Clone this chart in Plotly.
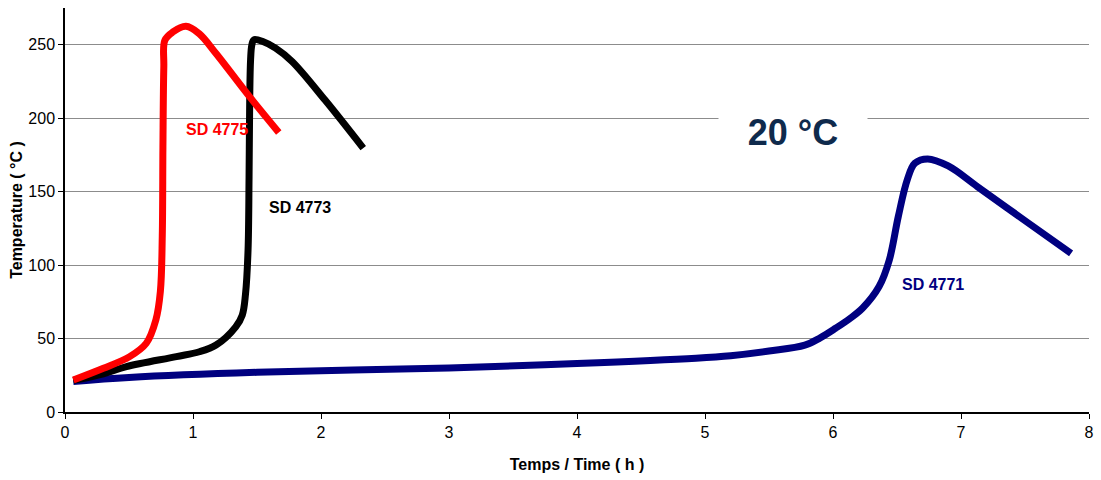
import plotly.graph_objects as go

# SD 4771 (blue)
t_4771 = [0.065, 0.5, 1.5, 3.0, 4.0, 4.93, 5.2, 5.5, 5.78, 5.9, 6.02, 6.13, 6.23, 6.36, 6.44, 6.51, 6.58, 6.64, 6.74, 6.9, 7.13, 7.52, 7.86]
T_4771 = [20.8, 23.5, 27, 30, 33, 36.6, 38.3, 41.5, 45.5, 50.5, 57, 63.5, 70.6, 85.4, 103.5, 133, 158, 169.4, 172.3, 167.5, 153.3, 129, 108]

# SD 4773 (black)
t_4773 = [0.065, 0.3, 0.48, 0.87, 1.05, 1.18, 1.334, 1.385, 1.41, 1.43, 1.438, 1.443, 1.45, 1.46, 1.476, 1.55, 1.645, 1.774, 2.03, 2.33]
T_4773 = [21.5, 26, 30.9, 37.7, 41, 45.6, 58, 66, 80, 110, 160, 212, 240, 250, 253.4, 252, 247.7, 238.6, 212.5, 179.6]

# SD 4775 (red)
t_4775 = [0.065, 0.3, 0.505, 0.635, 0.71, 0.745, 0.76, 0.765, 0.772, 0.78, 0.84, 0.945, 1.049, 1.18, 1.44, 1.67]
T_4775 = [21.8, 29.8, 37.7, 46.8, 62.7, 82, 120, 180, 235, 253, 258.5, 262.5, 257.5, 244, 214.8, 190.3]

x_ticks = [0, 1, 2, 3, 4, 5, 6, 7, 8]
y_ticks = [0, 50, 100, 150, 200, 250]

FONT = "Liberation Sans, Arial, sans-serif"

fig = go.Figure()
fig.add_trace(go.Scatter(x=t_4771, y=T_4771, mode="lines",
                         line=dict(color="#000080", width=7, shape="spline", smoothing=1.0)))
fig.add_trace(go.Scatter(x=t_4773, y=T_4773, mode="lines",
                         line=dict(color="#000000", width=7, shape="spline", smoothing=1.0)))
fig.add_trace(go.Scatter(x=t_4775, y=T_4775, mode="lines",
                         line=dict(color="#FF0000", width=7, shape="spline", smoothing=1.0)))

fig.add_annotation(x=1.19, y=192, text="<b>SD 4775</b>", showarrow=False,
                   font=dict(family=FONT, size=16, color="#FF0000"))
fig.add_annotation(x=1.835, y=139, text="<b>SD 4773</b>", showarrow=False,
                   font=dict(family=FONT, size=16, color="#000000"))
fig.add_annotation(x=6.78, y=87, text="<b>SD 4771</b>", showarrow=False,
                   font=dict(family=FONT, size=16, color="#000080"))
fig.add_annotation(x=5.69, y=190, text="<b>20 °C</b>", showarrow=False,
                   font=dict(family=FONT, size=36, color="#0F2A4C"),
                   bgcolor="white", borderpad=6, width=136)

fig.update_layout(
    width=1101, height=480,
    margin=dict(l=65, r=7, t=8, b=68),
    paper_bgcolor="white", plot_bgcolor="white",
    showlegend=False,
    font=dict(family=FONT, size=16, color="#000000"),
    xaxis=dict(range=[0, 8], tickvals=x_ticks, showgrid=False, zeroline=False,
               showline=True, linecolor="black", linewidth=1.5,
               ticks="outside", ticklen=5, tickcolor="black",
               tickfont=dict(size=16),
               title=dict(text="<b>Temps / Time ( h )</b>", font=dict(size=16), standoff=19)),
    yaxis=dict(range=[0, 275], tickvals=y_ticks, showgrid=True, gridcolor="#8C8C8C", gridwidth=1,
               zeroline=False, showline=True, linecolor="black", linewidth=1.5,
               ticks="outside", ticklen=5, tickcolor="black",
               tickfont=dict(size=16),
               title=dict(text="<b>Temperature ( °C )</b>", font=dict(size=16), standoff=2)),
)

fig.write_html("out.html")
